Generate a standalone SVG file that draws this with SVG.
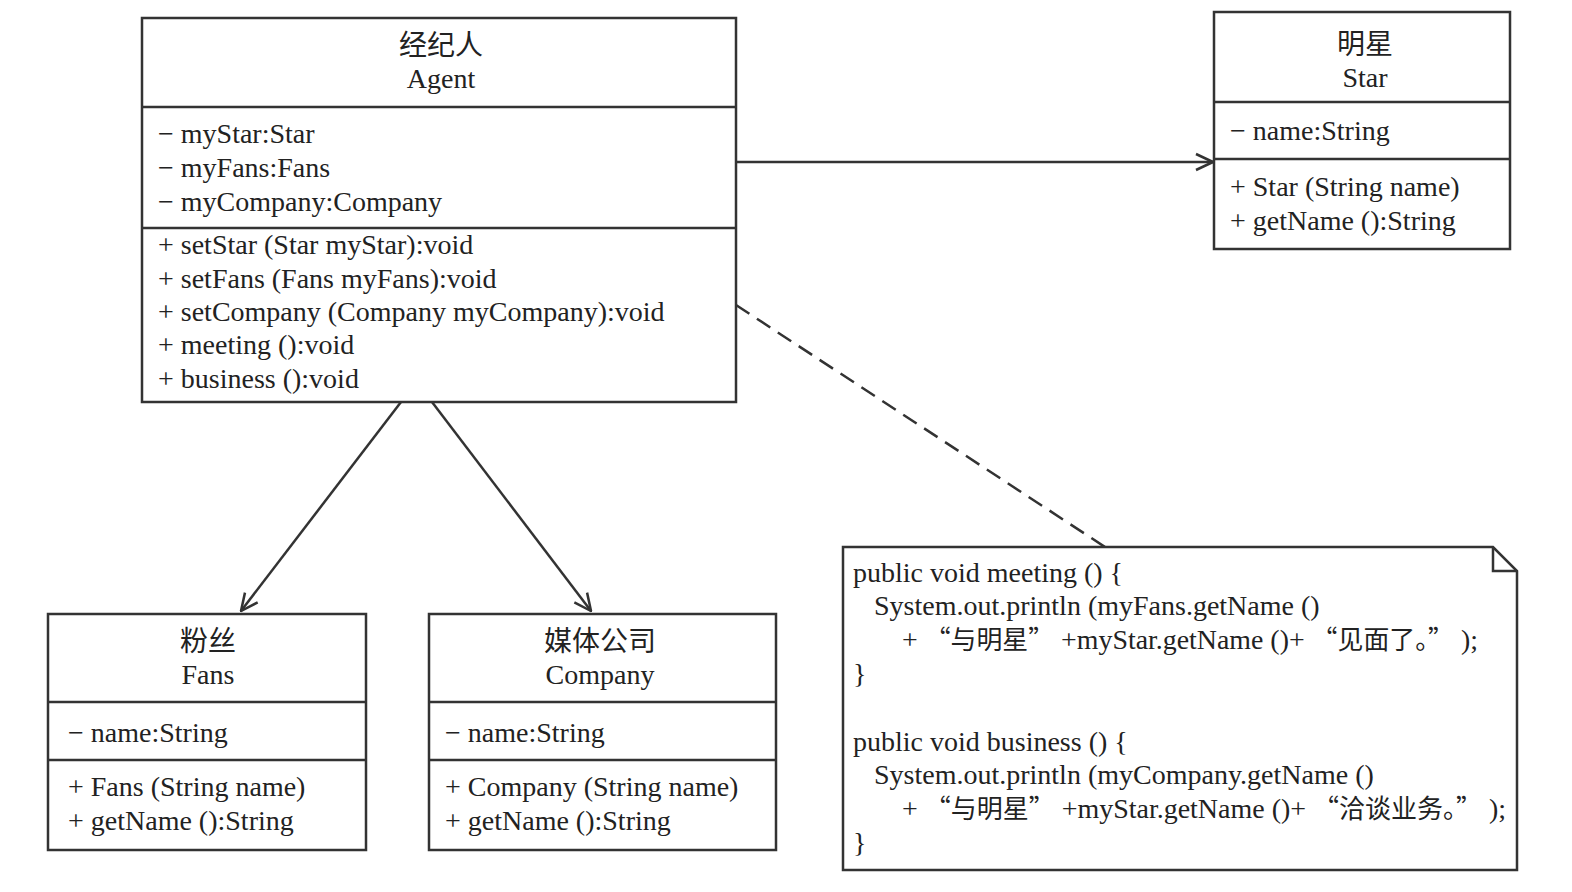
<svg xmlns="http://www.w3.org/2000/svg" width="1572" height="892" viewBox="0 0 1572 892">
<defs>
<style>
.box{fill:#fff;stroke:#333;stroke-width:2.5}
.ln{stroke:#333;stroke-width:2.5;fill:none}
text{font-family:"Liberation Serif","Noto Sans CJK SC",serif;font-size:28px;fill:#222}
.c{text-anchor:middle}
.cjk{font-family:"Noto Sans CJK SC",sans-serif;font-size:26px}
</style>
<marker id="open" viewBox="0 0 20 20" refX="19" refY="10" markerWidth="20" markerHeight="20" markerUnits="userSpaceOnUse" orient="auto">
<path d="M2,2 L19,10 L2,18" fill="none" stroke="#333" stroke-width="2.5"/>
</marker>
</defs>
<rect width="1572" height="892" fill="#fff"/>
<g id="connectors">
<line class="ln" x1="736" y1="162" x2="1213" y2="162" marker-end="url(#open)"/>
<line class="ln" x1="401" y1="402" x2="241" y2="611" marker-end="url(#open)"/>
<line class="ln" x1="432" y1="402" x2="591" y2="611" marker-end="url(#open)"/>
<line class="ln" x1="736" y1="305" x2="1105" y2="547" stroke-dasharray="16,9"/>
</g>
<g id="agent">
<rect class="box" x="142" y="18" width="594" height="384"/>
<line class="ln" x1="142" y1="107" x2="736" y2="107"/>
<line class="ln" x1="142" y1="228" x2="736" y2="228"/>
<text class="c" x="441" y="55">经纪人</text>
<text class="c" x="441" y="88">Agent</text>
<text x="158" y="143">− myStar:Star</text>
<text x="158" y="177">− myFans:Fans</text>
<text x="158" y="211">− myCompany:Company</text>
<text x="158" y="254">+ setStar (Star myStar):void</text>
<text x="158" y="288">+ setFans (Fans myFans):void</text>
<text x="158" y="321">+ setCompany (Company myCompany):void</text>
<text x="158" y="354">+ meeting ():void</text>
<text x="158" y="388">+ business ():void</text>
</g>
<g id="star">
<rect class="box" x="1214" y="12" width="296" height="237"/>
<line class="ln" x1="1214" y1="102" x2="1510" y2="102"/>
<line class="ln" x1="1214" y1="159" x2="1510" y2="159"/>
<text class="c" x="1365" y="54">明星</text>
<text class="c" x="1365" y="87">Star</text>
<text x="1230" y="140">− name:String</text>
<text x="1230" y="196">+ Star (String name)</text>
<text x="1230" y="230">+ getName ():String</text>
</g>
<g id="fans">
<rect class="box" x="48" y="614" width="318" height="236"/>
<line class="ln" x1="48" y1="702" x2="366" y2="702"/>
<line class="ln" x1="48" y1="760" x2="366" y2="760"/>
<text class="c" x="208" y="651">粉丝</text>
<text class="c" x="208" y="684">Fans</text>
<text x="68" y="742">− name:String</text>
<text x="68" y="796">+ Fans (String name)</text>
<text x="68" y="830">+ getName ():String</text>
</g>
<g id="company">
<rect class="box" x="429" y="614" width="347" height="236"/>
<line class="ln" x1="429" y1="702" x2="776" y2="702"/>
<line class="ln" x1="429" y1="760" x2="776" y2="760"/>
<text class="c" x="600" y="651">媒体公司</text>
<text class="c" x="600" y="684">Company</text>
<text x="445" y="742">− name:String</text>
<text x="445" y="796">+ Company (String name)</text>
<text x="445" y="830">+ getName ():String</text>
</g>
<g id="note">
<path class="box" d="M843,547 L1493,547 L1517,571 L1517,870 L843,870 Z"/>
<path class="ln" d="M1493,547 L1493,571 L1517,571"/>
<text x="853" y="582">public void meeting () {</text>
<text x="874" y="615">System.out.println (myFans.getName ()</text>
<text x="902" y="649" textLength="576" lengthAdjust="spacingAndGlyphs">+ <tspan class="cjk">“与明星”</tspan> +myStar.getName ()+ <tspan class="cjk">“见面了。”</tspan> );</text>
<text x="853" y="683">}</text>
<text x="853" y="751">public void business () {</text>
<text x="874" y="784">System.out.println (myCompany.getName ()</text>
<text x="902" y="818" textLength="604" lengthAdjust="spacingAndGlyphs">+ <tspan class="cjk">“与明星”</tspan> +myStar.getName ()+ <tspan class="cjk">“洽谈业务。”</tspan> );</text>
<text x="853" y="852">}</text>
</g>
</svg>
